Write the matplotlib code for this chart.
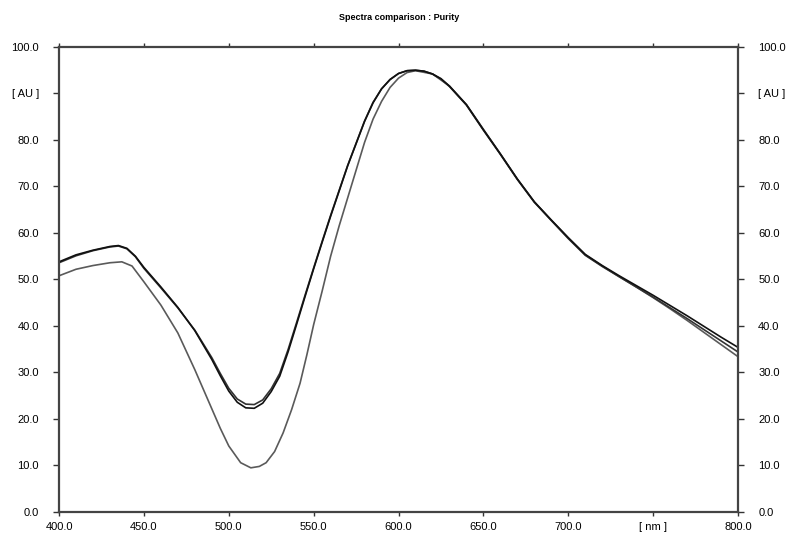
import matplotlib
matplotlib.use("Agg")
import matplotlib.pyplot as plt

plt.rcParams['font.family'] = ['Liberation Sans', 'DejaVu Sans']

# wavelengths [nm] and absorbance [AU]
nm_a = [400, 410, 420, 430, 435, 440, 445, 450, 460, 470, 480, 490, 495, 500, 505, 510, 515,
        520, 525, 530, 535, 540, 545, 550, 555, 560, 570, 580, 585, 590, 595, 600, 605, 610, 615,
        620, 625, 630, 640, 650, 660, 670, 680, 690, 700, 710, 720, 730, 740, 750, 760, 770, 780,
        790, 800]
spec_1 = [53.8, 55.3, 56.3, 57.1, 57.3, 56.7, 55.0, 52.6, 48.4, 44.0, 39.0, 32.8, 29.3, 26.0, 23.6, 22.4, 22.3,
          23.4, 25.9, 29.2, 34.5, 40.4, 46.4, 52.3, 58.0, 63.6, 74.4, 84.0, 88.0, 91.0, 93.0, 94.3, 94.9, 95.0, 94.8,
          94.2, 93.2, 91.6, 87.6, 82.2, 77.0, 71.6, 66.7, 62.8, 59.0, 55.4, 53.0, 50.8, 48.7, 46.6, 44.4, 42.2, 39.9,
          37.6, 35.4]
spec_2 = [53.6, 55.1, 56.2, 57.0, 57.2, 56.6, 54.9, 52.4, 48.2, 43.9, 39.1, 33.2, 29.8, 26.6, 24.3, 23.2, 23.1,
          24.1, 26.5, 29.8, 35.0, 40.8, 46.7, 52.5, 58.2, 63.8, 74.5, 84.1, 88.1, 91.0, 93.0, 94.3, 94.9, 95.0, 94.8,
          94.2, 93.1, 91.5, 87.5, 82.1, 76.9, 71.5, 66.6, 62.7, 58.8, 55.2, 52.8, 50.6, 48.4, 46.2, 43.9, 41.6, 39.2,
          36.8, 34.4]

nm_b = [400, 410, 420, 430, 437, 443, 450, 460, 470, 480, 490, 495, 500, 507, 513, 518,
        522, 527, 532, 537, 542, 546, 550, 555, 560, 565, 570, 580, 585, 590, 595, 600, 605, 610, 620,
        630, 640, 650, 660, 670, 680, 690, 700, 710, 720, 730, 740, 750, 760, 770,
        780, 790, 800]
spec_3 = [50.8, 52.2, 53.0, 53.6, 53.8, 52.9, 49.5, 44.5, 38.5, 30.6, 22.2, 18.0, 14.2, 10.6, 9.5, 9.8,
          10.6, 13.0, 17.0, 22.0, 27.7, 33.8, 40.3, 47.5, 55.0, 61.5, 67.5, 79.5, 84.5, 88.3, 91.3, 93.3, 94.5, 94.9, 94.2,
          91.6, 87.6, 82.3, 77.0, 71.6, 66.7, 62.7, 58.9, 55.3, 52.9, 50.6, 48.4, 46.1, 43.7, 41.2,
          38.6, 36.0, 33.4]

x_ticks = [400, 450, 500, 550, 600, 650, 700, 750, 800]
x_labels = ['400.0', '450.0', '500.0', '550.0', '600.0', '650.0', '700.0', '[ nm ]', '800.0']
y_ticks = [0, 10, 20, 30, 40, 50, 60, 70, 80, 90, 100]
y_labels = ['0.0', '10.0', '20.0', '30.0', '40.0', '50.0', '60.0', '70.0', '80.0', '[ AU ]', '100.0']

fig = plt.figure(figsize=(7.88, 5.34), dpi=100)
ax = fig.add_axes([0.0749, 0.0412, 0.8617, 0.8708])

ax.plot(nm_b, spec_3, color='#5a5a5a', lw=1.2)
ax.plot(nm_a, spec_2, color='#333333', lw=1.2)
ax.plot(nm_a, spec_1, color='#111111', lw=1.2)

ax.set_xlim(400, 800)
ax.set_ylim(0, 100)
ax.set_xticks(x_ticks)
ax.set_xticklabels(x_labels)
ax.set_yticks(y_ticks)
ax.set_yticklabels(y_labels)

ax.tick_params(axis='both', direction='out', labelsize=8, color='#333333', width=1)
ax.tick_params(axis='x', top=True, length=3, pad=4)
ax.tick_params(axis='y', right=True, labelright=True, length=4.5, pad=10)
for s in ax.spines.values():
    s.set_linewidth(1.6)
    s.set_color('#444444')

fig.text(0.506, 0.968, 'Spectra comparison : Purity', ha='center', va='center',
         fontsize=6.5, fontweight='bold')

fig.savefig('out.png', dpi=100)
